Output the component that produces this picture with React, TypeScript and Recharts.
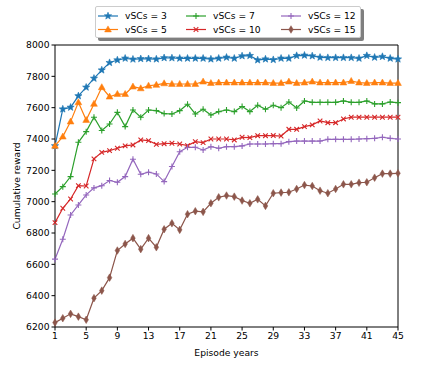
import React from 'react'
import { LineChart, Line, XAxis, YAxis, ReferenceLine } from 'recharts'

const episodes = [
  1, 2, 3, 4, 5, 6, 7, 8, 9, 10, 11, 12, 13, 14, 15, 16, 17, 18, 19, 20, 21, 22, 23,
  24, 25, 26, 27, 28, 29, 30, 31, 32, 33, 34, 35, 36, 37, 38, 39, 40, 41, 42, 43, 44, 45,
]

const vscs3 = [
  7356, 7591, 7602, 7675, 7730, 7787, 7840, 7887, 7904, 7915, 7909, 7912, 7912, 7910, 7918,
  7917, 7915, 7915, 7915, 7915, 7910, 7915, 7921, 7915, 7930, 7932, 7904, 7910, 7906, 7915,
  7915, 7932, 7934, 7930, 7921, 7919, 7919, 7919, 7919, 7915, 7932, 7921, 7926, 7915, 7910,
]
const vscs5 = [
  7356, 7415, 7511, 7634, 7521, 7624, 7730, 7670, 7687, 7687, 7734, 7723, 7740, 7745, 7755,
  7751, 7751, 7751, 7751, 7766, 7757, 7760, 7760, 7760, 7760, 7760, 7760, 7760, 7757, 7757,
  7766, 7757, 7760, 7766, 7760, 7760, 7760, 7760, 7770, 7760, 7757, 7760, 7760, 7757, 7757,
]
const vscs7 = [
  7049, 7096, 7160, 7379, 7447, 7539, 7454, 7496, 7570, 7479, 7585, 7539, 7585, 7581, 7562,
  7560, 7581, 7622, 7560, 7590, 7553, 7575, 7585, 7575, 7607, 7575, 7615, 7590, 7615, 7600,
  7636, 7598, 7643, 7634, 7634, 7634, 7634, 7643, 7634, 7634, 7643, 7624, 7624, 7636, 7632,
]
const vscs10 = [
  6866, 6958, 7017, 7102, 7100, 7273, 7315, 7326, 7341, 7356, 7362, 7394, 7390, 7366, 7370,
  7373, 7368, 7358, 7383, 7377, 7400, 7400, 7400, 7394, 7411, 7409, 7421, 7421, 7422, 7419,
  7462, 7462, 7479, 7490, 7515, 7504, 7504, 7528, 7539, 7539, 7539, 7539, 7539, 7539, 7539,
]
const vscs12 = [
  6633, 6760, 6915, 6979, 7043, 7088, 7102, 7135, 7124, 7160, 7271, 7175, 7188, 7177, 7128,
  7224, 7319, 7347, 7347, 7330, 7351, 7341, 7351, 7351, 7356, 7368, 7368, 7368, 7370, 7370,
  7383, 7387, 7387, 7387, 7387, 7398, 7398, 7398, 7398, 7400, 7402, 7404, 7411, 7404, 7400,
]
const vscs15 = [
  6228, 6256, 6284, 6266, 6246, 6384, 6432, 6515, 6688, 6730, 6767, 6697, 6767, 6709, 6824,
  6862, 6820, 6920, 6939, 6935, 6990, 7028, 7039, 7032, 7007, 6990, 7015, 6973, 7054, 7058,
  7060, 7081, 7106, 7100, 7070, 7054, 7081, 7111, 7111, 7121, 7124, 7153, 7179, 7179, 7181,
]

const xTicks = [1, 5, 9, 13, 17, 21, 25, 29, 33, 37, 41, 45]
const yTicks = [6200, 6400, 6600, 6800, 7000, 7200, 7400, 7600, 7800, 8000]

type Shape = 'star' | 'triangle' | 'plus' | 'cross' | 'diamond'

const series: { key: string; name: string; color: string; shape: Shape }[] = [
  { key: 's3', name: 'vSCs = 3', color: '#1f77b4', shape: 'star' },
  { key: 's5', name: 'vSCs = 5', color: '#ff7f0e', shape: 'triangle' },
  { key: 's7', name: 'vSCs = 7', color: '#2ca02c', shape: 'plus' },
  { key: 's10', name: 'vSCs = 10', color: '#d62728', shape: 'cross' },
  { key: 's12', name: 'vSCs = 12', color: '#9467bd', shape: 'plus' },
  { key: 's15', name: 'vSCs = 15', color: '#8c564b', shape: 'diamond' },
]

const data = episodes.map((ep, i) => ({
  ep,
  s3: vscs3[i],
  s5: vscs5[i],
  s7: vscs7[i],
  s10: vscs10[i],
  s12: vscs12[i],
  s15: vscs15[i],
}))

const FONT = '"DejaVu Sans", sans-serif'

function starPoints(cx: number, cy: number, ro: number, ri: number) {
  const pts: string[] = []
  for (let k = 0; k < 10; k++) {
    const r = k % 2 === 0 ? ro : ri
    const a = -Math.PI / 2 + (k * Math.PI) / 5
    pts.push(`${cx + r * Math.cos(a)},${cy + r * Math.sin(a)}`)
  }
  return pts.join(' ')
}

function Marker({ cx, cy, shape, color }: { cx: number; cy: number; shape: Shape; color: string }) {
  if (cx == null || cy == null) return null
  switch (shape) {
    case 'star':
      return <polygon points={starPoints(cx, cy, 3.8, 1.6)} fill={color} stroke={color} strokeWidth={0.6} />
    case 'triangle':
      return (
        <polygon
          points={`${cx},${cy - 3.6} ${cx - 3.4},${cy + 2.4} ${cx + 3.4},${cy + 2.4}`}
          fill={color}
          stroke={color}
          strokeWidth={0.5}
        />
      )
    case 'plus':
      return (
        <path d={`M${cx - 3},${cy}H${cx + 3}M${cx},${cy - 3}V${cy + 3}`} stroke={color} strokeWidth={1.1} fill="none" />
      )
    case 'cross':
      return (
        <path
          d={`M${cx - 2.3},${cy - 2.3}L${cx + 2.3},${cy + 2.3}M${cx - 2.3},${cy + 2.3}L${cx + 2.3},${cy - 2.3}`}
          stroke={color}
          strokeWidth={1.1}
          fill="none"
        />
      )
    default:
      return (
        <polygon
          points={`${cx},${cy - 3.8} ${cx + 2.3},${cy} ${cx},${cy + 3.8} ${cx - 2.3},${cy}`}
          fill={color}
          stroke={color}
          strokeWidth={0.5}
        />
      )
  }
}

function ChartLegend() {
  // three columns, two rows, matplotlib-style box with a drop shadow
  const cols = [
    [series[0], series[1]],
    [series[2], series[3]],
    [series[4], series[5]],
  ]
  const colX = [0, 88, 183]
  return (
    <div style={{ position: 'absolute', left: 95, top: 6 }}>
      <div
        style={{
          position: 'absolute',
          left: 3,
          top: 3,
          width: 266,
          height: 32,
          background: '#7f7f7f',
          borderRadius: 2,
        }}
      />
      <div
        style={{
          position: 'relative',
          width: 264,
          height: 30,
          background: '#fff',
          border: '1px solid #cccccc',
          borderRadius: 2,
        }}
      >
        <svg width={264} height={30} style={{ position: 'absolute', left: 0, top: 0 }}>
          {cols.map((col, ci) =>
            col.map((s, ri) => {
              const y = 9 + ri * 13.5
              const x0 = colX[ci] + 2
              return (
                <g key={s.key}>
                  <line x1={x0} x2={x0 + 20} y1={y} y2={y} stroke={s.color} strokeWidth={1.2} />
                  <Marker cx={x0 + 10} cy={y} shape={s.shape} color={s.color} />
                  <text x={x0 + 27} y={y + 3.3} fontSize={9.2} fontFamily={FONT} fill="#000">
                    {s.name}
                  </text>
                </g>
              )
            }),
          )}
        </svg>
      </div>
    </div>
  )
}

export default function App() {
  return (
    <div style={{ position: 'absolute', left: 0, top: 0, width: 443, height: 375, background: '#fff' }}>
      <LineChart
        width={443}
        height={375}
        data={data}
        margin={{ top: 45, right: 45, bottom: 0, left: 0 }}
        style={{ fontFamily: FONT }}
      >
        <XAxis
          dataKey="ep"
          type="number"
          domain={[1, 45]}
          ticks={xTicks}
          interval={0}
          height={48}
          tickSize={3.5}
          tickMargin={2}
          stroke="#000"
          tick={{ fill: '#000', fontSize: 9.2, fontFamily: FONT }}
          label={{ value: 'Episode years', position: 'insideBottom', offset: 19, fill: '#000', fontSize: 9.2, fontFamily: FONT }}
        />
        <YAxis
          type="number"
          domain={[6200, 8000]}
          ticks={yTicks}
          interval={0}
          width={55}
          tickSize={3.5}
          tickMargin={2}
          stroke="#000"
          allowDataOverflow
          tick={{ fill: '#000', fontSize: 9.2, fontFamily: FONT }}
          label={{
            value: 'Cumulative reward',
            angle: -90,
            position: 'insideLeft',
            offset: 17,
            style: { textAnchor: 'middle' },
            fill: '#000',
            fontSize: 9.2,
            fontFamily: FONT,
          }}
        />
        <ReferenceLine y={8000} stroke="#000" strokeWidth={1} ifOverflow="visible" />
        <ReferenceLine x={45} stroke="#000" strokeWidth={1} ifOverflow="visible" />
        {series.map(s => (
          <Line
            key={s.key}
            dataKey={s.key}
            name={s.name}
            stroke={s.color}
            strokeWidth={1.2}
            isAnimationActive={false}
            dot={(p: any) => <Marker key={`${s.key}-${p.index}`} cx={p.cx} cy={p.cy} shape={s.shape} color={s.color} />}
            activeDot={false}
          />
        ))}
      </LineChart>
      <ChartLegend />
    </div>
  )
}
